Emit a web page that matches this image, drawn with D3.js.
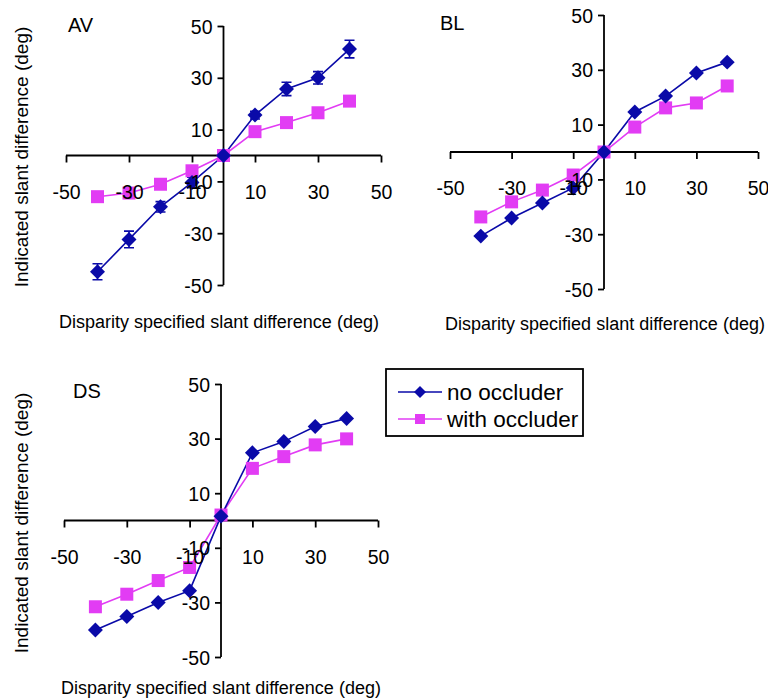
<!DOCTYPE html>
<html><head><meta charset="utf-8">
<script src="https://cdn.jsdelivr.net/npm/d3@7"></script>
<style>body{margin:0;background:#fff}svg{display:block}text{font-family:"Liberation Sans",Arial,sans-serif;fill:#000}</style>
</head><body>
<script>
const xValues = [-40,-30,-20,-10,0,10,20,30,40];
const tickValues = [-50,-30,-10,10,30,50];
const seriesNames = ["no occluder","with occluder"];

const avNoOccluder   = [-44.9,-32.4,-19.8,-10.4,0,15.6,25.7,30.0,41.1];
const avNoOccluderErr= [3.1,3.2,2.0,2.0,0,1.5,2.6,2.4,3.4];
const avWithOccluder = [-15.9,-14.5,-11.1,-5.9,0,9.2,12.7,16.5,21.0];

const blNoOccluder   = [-30.7,-24.1,-18.6,-13.1,0,14.6,20.4,28.8,32.8];
const blWithOccluder = [-23.7,-18.2,-13.9,-8.4,0,9.1,16.1,17.9,24.1];

const dsNoOccluder   = [-40.1,-35.2,-30.0,-25.7,1.6,24.8,28.9,34.4,37.4];
const dsWithOccluder = [-31.6,-27.0,-22.0,-17.2,2.0,19.1,23.4,27.7,29.9];

const COL_BLUE = "#0a0aa8", COL_PINK = "#e23cf4";
const FONT = '"Liberation Sans",Arial,sans-serif';

const svg = d3.select("body").append("svg").attr("width",768).attr("height",700);

const panels = [
  {name:"AV", no:avNoOccluder, noErr:avNoOccluderErr, wi:avWithOccluder,
   xr:[66,381], yr:[285,26], label:[68,32], xt:[219,328], yt:[28,157]},
  {name:"BL", no:blNoOccluder, noErr:null, wi:blWithOccluder,
   xr:[450,758], yr:[289,15], label:[440,30], xt:[605,330], yt:null},
  {name:"DS", no:dsNoOccluder, noErr:null, wi:dsWithOccluder,
   xr:[64,378], yr:[657,384], label:[73,398], xt:[221,694], yt:[28,523]}
];

const diamond = d3.symbol(d3.symbolSquare, 112);
const square = d3.symbol(d3.symbolSquare, 169);
const fmt = d => String(d);

panels.forEach(p => {
  const x = d3.scaleLinear().domain([-50,50]).range(p.xr);
  const y = d3.scaleLinear().domain([-50,50]).range(p.yr);
  const g = svg.append("g");
  const gx = g.append("g").attr("transform",`translate(0,${y(0)})`)
    .call(d3.axisBottom(x).tickValues(tickValues).tickSize(7).tickFormat(""));
  const gy = g.append("g").attr("transform",`translate(${x(0)},0)`)
    .call(d3.axisLeft(y).tickValues(tickValues).tickSize(6).tickFormat(""));
  [gx,gy].forEach(a=>{a.selectAll("path,line").attr("stroke","#000").attr("stroke-width",1.8);
    a.select(".domain").attr("d", a===gx ? `M${p.xr[0]},0H${p.xr[1]}` : `M0,${p.yr[0]}V${p.yr[1]}`);});

  const line = d3.line().x((d,i)=>x(xValues[i])).y(d=>y(d));
  g.append("path").datum(p.wi).attr("d",line).attr("fill","none").attr("stroke",COL_PINK).attr("stroke-width",1.6);
  g.append("path").datum(p.no).attr("d",line).attr("fill","none").attr("stroke",COL_BLUE).attr("stroke-width",1.6);
  if (p.noErr) {
    p.noErr.forEach((e,i)=>{
      if(!e) return;
      const cx = x(xValues[i]), y1=y(p.no[i]-e), y2=y(p.no[i]+e);
      g.append("path").attr("d",`M${cx},${y1}V${y2}M${cx-5},${y1}H${cx+5}M${cx-5},${y2}H${cx+5}`)
        .attr("stroke",COL_BLUE).attr("stroke-width",1.6).attr("fill","none");
    });
  }
  g.selectAll(".sq").data(p.wi).join("path").attr("d",square)
    .attr("transform",(d,i)=>`translate(${x(xValues[i])},${y(d)})`).attr("fill",COL_PINK);
  g.selectAll(".dm").data(p.no).join("path").attr("d",diamond)
    .attr("transform",(d,i)=>`translate(${x(xValues[i])},${y(d)}) rotate(45)`).attr("fill",COL_BLUE);

  const lx = g.append("g").attr("transform",`translate(0,${y(0)})`)
    .call(d3.axisBottom(x).tickValues(tickValues).tickSize(0).tickPadding(29.5).tickFormat(fmt));
  const ly = g.append("g").attr("transform",`translate(${x(0)},0)`)
    .call(d3.axisLeft(y).tickValues(tickValues).tickSize(0).tickPadding(11).tickFormat(fmt));
  [lx,ly].forEach(a=>{a.select(".domain").remove(); a.selectAll("line").remove();
    a.selectAll("text").attr("font-size",19.5).attr("font-family",FONT).attr("fill","#000");});
  ly.selectAll("text").attr("dy","0.36em");

  g.append("text").attr("x",p.label[0]).attr("y",p.label[1]).attr("font-size",20).text(p.name);
  g.append("text").attr("x",p.xt[0]).attr("y",p.xt[1]).attr("text-anchor","middle").attr("font-size",18)
    .text("Disparity specified slant difference (deg)");
  if (p.yt) g.append("text").attr("transform",`translate(${p.yt[0]},${p.yt[1]}) rotate(-90)`)
    .attr("text-anchor","middle").attr("font-size",19).text("Indicated slant difference (deg)");
});

const lg = svg.append("g");
lg.append("rect").attr("x",386).attr("y",369).attr("width",197).attr("height",67)
  .attr("fill","#fff").attr("stroke","#000").attr("stroke-width",1.8);
const legendRows = [{name:seriesNames[0],col:COL_BLUE,sym:d3.symbol(d3.symbolSquare,72),rot:45,y:392},
                    {name:seriesNames[1],col:COL_PINK,sym:d3.symbol(d3.symbolSquare,100),rot:0,y:419}];
legendRows.forEach(r=>{
  lg.append("line").attr("x1",398).attr("x2",442).attr("y1",r.y).attr("y2",r.y).attr("stroke",r.col).attr("stroke-width",1.6);
  lg.append("path").attr("d",r.sym).attr("transform",`translate(420,${r.y}) rotate(${r.rot})`).attr("fill",r.col);
  lg.append("text").attr("x",447).attr("y",r.y+7.5).attr("font-size",22.5).text(r.name);
});
</script>
</body></html>
